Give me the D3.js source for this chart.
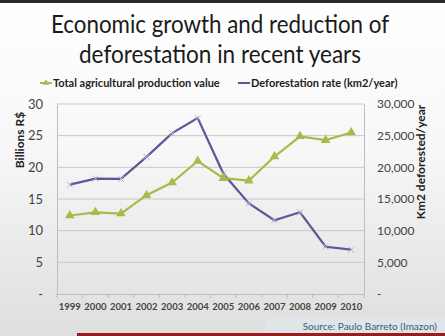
<!DOCTYPE html>
<html><head><meta charset="utf-8">
<script src="https://cdn.jsdelivr.net/npm/d3@7/dist/d3.min.js"></script>
<style>body{margin:0;overflow:hidden}svg{display:block}</style>
</head><body>
<script>
const years = ["1999","2000","2001","2002","2003","2004","2005","2006","2007","2008","2009","2010"];
const agriValue = [12.4,12.9,12.7,15.6,17.6,21.0,18.3,17.9,21.7,24.9,24.3,25.5];
const deforestation = [17259,18226,18165,21651,25396,27772,19014,14286,11651,12911,7464,7000];
const leftTicks = [0,5,10,15,20,25,30];
const rightTicks = [0,5000,10000,15000,20000,25000,30000];
const titleLines = ["Economic growth and reduction of","deforestation in recent years"];
const seriesNames = ["Total agricultural production value","Deforestation rate (km2/year)"];

const W=445,H=336;
const font="Lato, 'Open Sans', sans-serif";
const svg=d3.select("body").append("svg").attr("width",W).attr("height",H);
const defs=svg.append("defs");
const g1=defs.append("linearGradient").attr("id","bg").attr("x1",0).attr("y1",0).attr("x2",0).attr("y2",1);
g1.append("stop").attr("offset","0").attr("stop-color","#ffffff");
g1.append("stop").attr("offset","0.45").attr("stop-color","#f7f7f7");
g1.append("stop").attr("offset","1").attr("stop-color","#dedede");
svg.append("rect").attr("width",W).attr("height",H).attr("fill","url(#bg)");
svg.append("rect").attr("width",W).attr("height",3).attr("fill","#2a2a2a");

const green="#a3bd4a", purple="#5d5798";
const x=d3.scaleBand().domain(years).range([57,364]);
const yL=d3.scaleLinear().domain([0,30]).range([294,104]);
const yR=d3.scaleLinear().domain([0,30000]).range([294,104]);

// title
const titleLen=[338,282];
svg.append("g").selectAll("text").data(titleLines).join("text")
 .attr("x",220).attr("y",(d,i)=>33+i*30).attr("text-anchor","middle")
 .attr("textLength",(d,i)=>titleLen[i]).attr("lengthAdjust","spacingAndGlyphs")
 .attr("font-family",font).attr("font-size",25).attr("fill","#1a1a1a").text(d=>d);

// gridlines
svg.append("g").selectAll("line").data(leftTicks.filter(d=>d>0)).join("line")
 .attr("x1",57).attr("x2",364).attr("y1",d=>yL(d)).attr("y2",d=>yL(d))
 .attr("stroke","#c8c8c8").attr("stroke-width",1);

// left axis
const la=svg.append("g").attr("transform","translate(57,0)")
 .call(d3.axisLeft(yL).tickValues(leftTicks).tickSize(0).tickPadding(14).tickFormat(d=>d===0?"-":d));
la.select(".domain").attr("stroke","#bdbdbd");
la.selectAll("text").attr("font-family",font).attr("font-size",13).attr("fill","#444");
const ra=svg.append("g").attr("transform","translate(364,0)")
 .call(d3.axisRight(yR).tickValues(rightTicks).tickSize(0).tickPadding(13).tickFormat(d=>d===0?"-":d3.format(",")(d)));
ra.select(".domain").attr("stroke","#bdbdbd");
ra.selectAll("text").attr("font-family",font).attr("font-size",12).attr("fill","#444");

// x axis
const xa=svg.append("g").attr("transform","translate(0,294)")
 .call(d3.axisBottom(x).tickSize(0).tickPadding(9));
xa.select(".domain").attr("stroke","#bdbdbd");
xa.selectAll("text").attr("font-family",font).attr("font-size",9.5).attr("font-weight","bold").attr("fill","#444");
xa.append("g").selectAll("line").data(years.concat(["end"])).join("line")
 .attr("x1",(d,i)=>57+i*x.step()).attr("x2",(d,i)=>57+i*x.step()).attr("y1",0).attr("y2",4).attr("stroke","#bdbdbd");

// axis titles
svg.append("text").attr("transform","translate(24,140) rotate(-90)").attr("text-anchor","middle")
 .attr("font-family",font).attr("font-size",12).attr("font-weight","bold").attr("fill","#222").text("Billions R$");
svg.append("text").attr("transform","translate(425,162) rotate(-90)").attr("text-anchor","middle")
 .attr("font-family",font).attr("font-size",12).attr("font-weight","bold").attr("fill","#222").text("Km2 deforested/year");

// lines
const lineL=d3.line().x((d,i)=>x(years[i])+x.bandwidth()/2).y(d=>yL(d));
const lineR=d3.line().x((d,i)=>x(years[i])+x.bandwidth()/2).y(d=>yR(d));
svg.append("path").datum(deforestation).attr("d",lineR).attr("fill","none").attr("stroke",purple).attr("stroke-width",2.2);
svg.append("g").selectAll("path").data(deforestation).join("path")
 .attr("transform",(d,i)=>`translate(${x(years[i])+x.bandwidth()/2},${yR(d)})`)
 .attr("d","M-3,-3L3,3M-3,3L3,-3").attr("stroke","#b8b4d6").attr("stroke-width",1);
svg.append("path").datum(agriValue).attr("d",lineL).attr("fill","none").attr("stroke",green).attr("stroke-width",2.2);
const tri=d3.symbol().type(d3.symbolTriangle).size(40);
svg.append("g").selectAll("path").data(agriValue).join("path")
 .attr("transform",(d,i)=>`translate(${x(years[i])+x.bandwidth()/2},${yL(d)})`)
 .attr("d",tri).attr("fill",green);

// legend
const leg=svg.append("g");
const legItems=[{x:40,c:green,t:seriesNames[0]},{x:238,c:purple,t:seriesNames[1]}];
legItems.forEach(it=>{
  leg.append("line").attr("x1",it.x).attr("x2",it.x+12).attr("y1",83).attr("y2",83).attr("stroke",it.c).attr("stroke-width",2);
  if(it.c===green) leg.append("path").attr("transform",`translate(${it.x+6},83)`).attr("d",d3.symbol().type(d3.symbolTriangle).size(18)).attr("fill",it.c);
  leg.append("text").attr("x",it.x+13).attr("y",87).attr("font-family",font).attr("font-size",11).attr("font-weight","bold").attr("fill","#222").text(it.t);
});

// footer
svg.append("rect").attr("x",265).attr("y",318).attr("width",180).attr("height",15).attr("fill","#dfe5e8");
svg.append("text").attr("x",437).attr("y",330).attr("text-anchor","end").attr("font-family",font).attr("font-size",10).attr("fill","#3d5a7a").text("Source: Paulo Barreto (Imazon)");
svg.append("rect").attr("x",77).attr("y",333).attr("width",W-77).attr("height",3).attr("fill","#9b1c1c");
</script>
</body></html>
